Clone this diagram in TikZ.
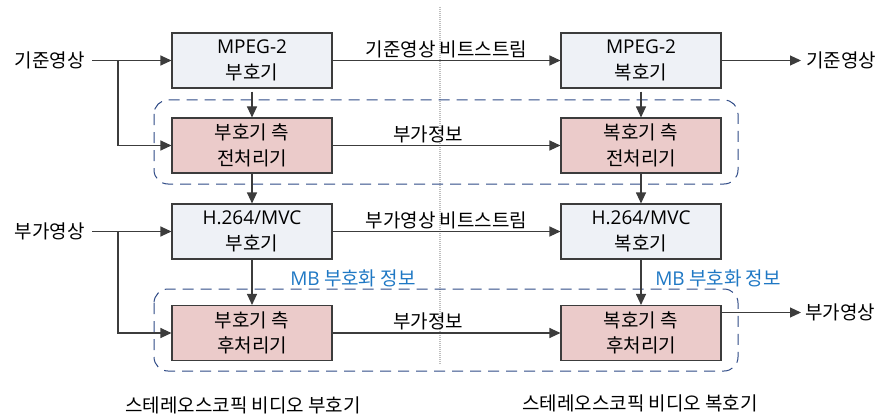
\documentclass[tikz,border=0pt]{standalone}
\usepackage{fontspec}
\setmainfont{Noto Sans CJK KR}
\newfontfamily\lat{Open Sans}
\usetikzlibrary{arrows.meta,positioning}
\definecolor{bluebox}{HTML}{EEF1F6}
\definecolor{pinkbox}{HTML}{EBCBCA}
\definecolor{lineg}{HTML}{3C3C3C}
\definecolor{dashblue}{HTML}{2E4A86}
\definecolor{mbblue}{HTML}{1F78C4}
\tikzset{
  x=1pt,y=-1pt,
  blk/.style={draw=lineg,line width=1.1pt,minimum width=160pt,minimum height=55pt,align=center,inner sep=0pt,font=\fontsize{19}{25.5}\selectfont},
  bblk/.style={blk,fill=bluebox},
  pblk/.style={blk,fill=pinkbox},
  conn/.style={draw=lineg,line width=1.1pt,-{Triangle[length=11pt,width=10pt]}},
  plain/.style={draw=lineg,line width=1.1pt},
  lbl/.style={font=\fontsize{19}{22}\selectfont,inner sep=1pt},
  grp/.style={draw=dashblue,line width=1pt,dash pattern=on 11pt off 7pt,rounded corners=14pt},
}
\begin{document}
\begin{tikzpicture}
\useasboundingbox (0,0) rectangle (885,417);
% separator
\draw[gray!50,line width=1.2pt,dash pattern=on 1pt off 1pt] (440,7) -- (440,365);
% groups
\draw[grp] (154,100) rectangle (738,184);
\draw[grp] (154,289) rectangle (738,371);
% boxes
\node[bblk] (enc1) at (252,60.5) {{\lat MPEG-2}\\부호기};
\node[pblk] (pre1) at (252,145.5) {부호기 측\\전처리기};
\node[bblk] (enc2) at (252,231.5) {{\lat H.264/MVC}\\부호기};
\node[pblk] (post1) at (252,333) {부호기 측\\후처리기};
\node[bblk] (dec1) at (641,60.5) {{\lat MPEG-2}\\복호기};
\node[pblk] (pre2) at (641,145.5) {복호기 측\\전처리기};
\node[bblk] (dec2) at (641,231.5) {{\lat H.264/MVC}\\복호기};
\node[pblk] (post2) at (641,333) {복호기 측\\후처리기};
% inputs
\node[lbl,anchor=east] (in1) at (86,60.5) {기준영상};
\node[lbl,anchor=east] (in2) at (86,231.5) {부가영상};
\coordinate (b1) at (118,60.5);
\coordinate (b2) at (118,231.5);
\draw[plain] (in1.east) ++(6,0) -- (b1);
\draw[conn] (b1) -- (enc1.west);
\draw[conn] (b1) |- (pre1.west);
\draw[plain] (in2.east) ++(6,0) -- (b2);
\draw[conn] (b2) -- (enc2.west);
\draw[conn] (b2) |- (post1.west);
% verticals
\draw[conn] (enc1.south) ++(0,3) -- (pre1.north);
\draw[conn] (pre1) -- (enc2);
\draw[conn] (enc2) -- (post1);
\draw[conn] (dec1.south) ++(0,3) -- (pre2.north);
\draw[conn] (pre2) -- (dec2);
\draw[conn] (dec2) -- (post2);
% horizontals
\draw[conn] (enc1) -- node[lbl,above=1pt,pos=0.5] {기준영상 비트스트림} (dec1);
\draw[conn] (pre1) -- node[lbl,above=1pt,pos=0.42] {부가정보} (pre2);
\draw[conn] (enc2) -- node[lbl,above=1pt,pos=0.5] {부가영상 비트스트림} (dec2);
\draw[conn] (post1) -- node[lbl,above=1pt,pos=0.42] {부가정보} (post2);
% outputs
\node[lbl,anchor=west] (out1) at (805,60.5) {기준영상};
\node[lbl,anchor=west] (out2) at (804,312.5) {부가영상};
\draw[conn] (dec1.east) -- ([xshift=-4pt]out1.west);
\coordinate (p2) at (post2.east |- out2.west);
\draw[conn] (p2) -- ([xshift=-3pt]out2.west);
% MB labels
\node[lbl,text=mbblue] (mb1) at (353,278) {{\lat MB} 부호화 정보};
\node[lbl,text=mbblue] (mb2) at (718,278) {{\lat MB} 부호화 정보};
% bottom labels
\node[lbl] (cap1) at (243,405) {스테레오스코픽 비디오 부호기};
\node[lbl] (cap2) at (640,403) {스테레오스코픽 비디오 복호기};
\end{tikzpicture}
\end{document}
